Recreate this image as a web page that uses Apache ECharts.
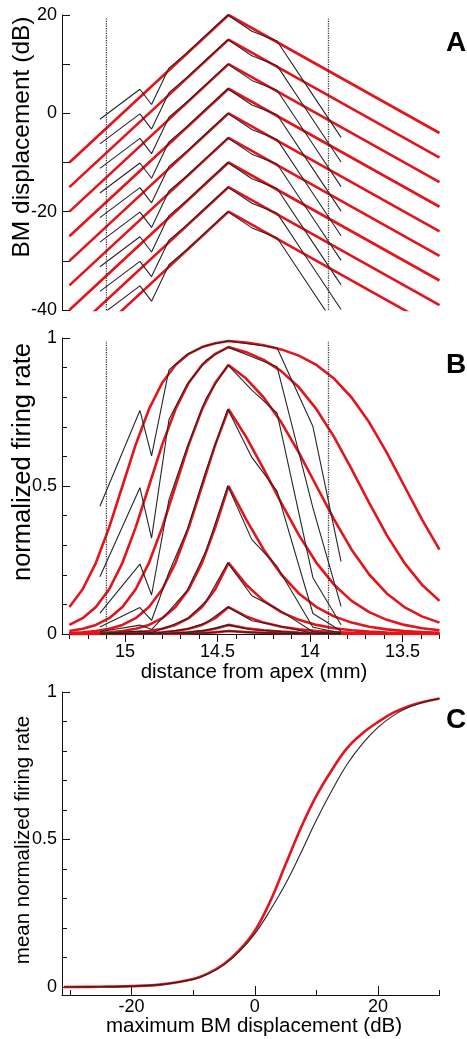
<!DOCTYPE html>
<html><head><meta charset="utf-8">
<script src="https://cdn.jsdelivr.net/npm/echarts@6.0.0/dist/echarts.min.js"></script>
<style>html,body{margin:0;padding:0;background:#fff;}#c{width:467px;height:1039px;}</style>
</head><body><div id="c"></div>
<script>
// ---------- Panel A : BM displacement (dB) vs distance from apex (mm) ----------
const redA = [
  [[15.3, -10], [14.44, 20], [13.3, -4]],
  [[15.3, -15], [14.44, 15], [13.3, -9]],
  [[15.3, -20], [14.44, 10], [13.3, -14]],
  [[15.3, -25], [14.44, 5], [13.3, -19]],
  [[15.3, -30], [14.44, 0], [13.3, -24]],
  [[15.3, -35], [14.44, -5], [13.3, -29]],
  [[15.3, -40], [14.44, -10], [13.3, -34]],
  [[15.3, -45], [14.44, -15], [13.3, -39]],
  [[15.3, -50], [14.44, -20], [13.3, -44]]
];
const measX = [15.135, 14.919, 14.856, 14.762, 14.665, 14.562, 14.444, 14.314, 14.178, 13.984, 13.832];
const blackA = [
  [-1.2, 4.9, 1.8, 9.2, 12.3, 15.9, 20, 16.7, 14.7, 3.7, -4.9],
  [-6.2, -0.1, -3.2, 4.2, 7.3, 10.9, 15, 11.7, 9.7, -1.3, -9.9],
  [-11.2, -5.1, -8.2, -0.8, 2.3, 5.9, 10, 6.7, 4.7, -6.3, -14.9],
  [-16.2, -10.1, -13.2, -5.8, -2.7, 0.9, 5, 1.7, -0.3, -11.3, -19.9],
  [-21.2, -15.1, -18.2, -10.8, -7.7, -4.1, 0, -3.3, -5.3, -16.3, -24.9],
  [-26.2, -20.1, -23.2, -15.8, -12.7, -9.1, -5, -8.3, -10.3, -21.3, -29.9],
  [-31.2, -25.1, -28.2, -20.8, -17.7, -14.1, -10, -13.3, -15.3, -26.3, -34.9],
  [-36.2, -30.1, -33.2, -25.8, -22.7, -19.1, -15, -18.3, -20.3, -31.3, -39.9],
  [-41.2, -35.1, -38.2, -30.8, -27.7, -24.1, -20, -23.3, -25.3, -36.3, -44.9]
];
const dottedX = [15.1, 13.9];
const dottedSpanA = [-40, 19.4];
const dottedSpanB = [0, 0.99];

// ---------- Panel B : normalized firing rate ----------
const modelX = [15.3, 15.2283, 15.1567, 15.085, 15.0133, 14.9417, 14.87, 14.7983, 14.7267, 14.655, 14.5833, 14.5117, 14.44,
  14.345, 14.25, 14.155, 14.06, 13.965, 13.87, 13.775, 13.68, 13.585, 13.49, 13.395, 13.3];
const redB = [
  [0.0911,0.1512,0.2405,0.3601,0.5,0.6399,0.7595,0.8488,0.9089,0.9466,0.9692,0.9824,0.9900,0.9843,0.9754,0.9615,0.9405,0.9089,0.8630,0.7990,0.7151,0.6130,0.5,0.3870,0.2849],
  [0.0308,0.0534,0.0911,0.1512,0.2405,0.3601,0.5,0.6399,0.7595,0.8488,0.9089,0.9466,0.9692,0.9521,0.9262,0.8880,0.8334,0.7595,0.6660,0.5573,0.4427,0.3340,0.2405,0.1666,0.1120],
  [0.0100,0.0176,0.0308,0.0534,0.0911,0.1512,0.2405,0.3601,0.5,0.6399,0.7595,0.8488,0.9089,0.8630,0.7990,0.7151,0.6130,0.5,0.3870,0.2849,0.2010,0.1370,0.0911,0.0595,0.0385],
  [0.0032,0.0056,0.0100,0.0176,0.0308,0.0534,0.0911,0.1512,0.2405,0.3601,0.5,0.6399,0.7595,0.6660,0.5573,0.4427,0.3340,0.2405,0.1666,0.1120,0.0738,0.0479,0.0308,0.0196,0.0125],
  [0.0010,0.0018,0.0032,0.0056,0.0100,0.0176,0.0308,0.0534,0.0911,0.1512,0.2405,0.3601,0.5,0.3870,0.2849,0.2010,0.1370,0.0911,0.0595,0.0385,0.0246,0.0157,0.0100,0.0063,0.0040],
  [0.0003,0.0006,0.0010,0.0018,0.0032,0.0056,0.0100,0.0176,0.0308,0.0534,0.0911,0.1512,0.2405,0.1666,0.1120,0.0738,0.0479,0.0308,0.0196,0.0125,0.0079,0.0050,0.0032,0.0020,0.0013],
  [0.0001,0.0002,0.0003,0.0006,0.0010,0.0018,0.0032,0.0056,0.0100,0.0176,0.0308,0.0534,0.0911,0.0595,0.0385,0.0246,0.0157,0.0100,0.0063,0.0040,0.0025,0.0016,0.0010,0.0006,0.0004],
  [0.0000,0.0001,0.0001,0.0002,0.0003,0.0006,0.0010,0.0018,0.0032,0.0056,0.0100,0.0176,0.0308,0.0196,0.0125,0.0079,0.0050,0.0032,0.0020,0.0013,0.0008,0.0005,0.0003,0.0002,0.0001],
  [0.0000,0.0000,0.0000,0.0001,0.0001,0.0002,0.0003,0.0006,0.0010,0.0018,0.0032,0.0056,0.0100,0.0063,0.0040,0.0025,0.0016,0.0010,0.0006,0.0004,0.0002,0.0001,0.0001,0.0000,0.0000]
];
const blackB = [
  [0.4314,0.7553,0.6020,0.8925,0.9442,0.9749,0.9900,0.9790,0.9671,0.7008,0.2447],
  [0.1937,0.4943,0.3238,0.7243,0.8427,0.9246,0.9692,0.9365,0.9030,0.4258,0.0930],
  [0.0707,0.2363,0.1317,0.4541,0.6293,0.7953,0.9089,0.8236,0.7467,0.1901,0.0315],
  [0.0235,0.0892,0.0458,0.2085,0.3495,0.5516,0.7595,0.5966,0.4828,0.0692,0.0102],
  [0.0076,0.0301,0.0150,0.0770,0.1454,0.2803,0.5,0.3189,0.2281,0.0230,0.0032],
  [0.0024,0.0097,0.0048,0.0257,0.0511,0.1098,0.2405,0.1291,0.0856,0.0074,0.0010],
  [0.0008,0.0031,0.0015,0.0083,0.0168,0.0376,0.0911,0.0448,0.0288,0.0024,0.0003],
  [0.0002,0.0010,0.0005,0.0026,0.0054,0.0122,0.0308,0.0146,0.0093,0.0007,0.0001],
  [0.0001,0.0003,0.0002,0.0008,0.0017,0.0039,0.0100,0.0047,0.0030,0.0002,0.0000]
];
const majorTicksB = [15, 14.5, 14, 13.5];
const minorTicksB = [15.3, 15.2, 15.1, 14.9, 14.8, 14.7, 14.6, 14.4, 14.3, 14.2, 14.1, 13.9, 13.8, 13.7, 13.6, 13.4, 13.3];

// ---------- Panel C : mean normalized firing rate vs max BM displacement ----------
const dbC = [-31, -25, -20, -15, -10, -7.5, -5, -2.5, 0, 2.5, 5, 7.5, 10, 12.5, 15, 17.5, 20, 22.5, 25, 27.5, 30];
const redC = [0.0002, 0.001, 0.003, 0.009, 0.027, 0.047, 0.078, 0.125, 0.19, 0.29, 0.415, 0.54, 0.648, 0.735, 0.81, 0.86, 0.898, 0.93, 0.952, 0.967, 0.978];
const blackC = [0.0002, 0.001, 0.003, 0.009, 0.026, 0.045, 0.075, 0.12, 0.18, 0.26, 0.35, 0.455, 0.565, 0.665, 0.755, 0.825, 0.88, 0.92, 0.948, 0.966, 0.978];
const majorTicksCx = [-20, 0, 20];
const minorTicksCx = [-30, -10, 10, 30];
const majorTicksCy = [0, 0.5, 1];
const minorTicksCy = [0.1, 0.2, 0.3, 0.4, 0.6, 0.7, 0.8, 0.9];

// ---------- build ----------
const FONT = '"Liberation Sans", Arial, Helvetica, sans-serif';
const RED = '#e3141b', BLK = '#262626', AX = '#111';
const chart = echarts.init(document.getElementById('c'), null, {renderer: 'canvas', width: 467, height: 1039});

const lineAx = {show: true, onZero: false, lineStyle: {color: AX, width: 1}};
const noLine = {show: false, onZero: false};
const lbl = {color: '#000', fontSize: 18, fontFamily: FONT};

const series = [];
function addLine(xi, yi, data, color, width, z, type) {
  series.push({type: 'line', xAxisIndex: xi, yAxisIndex: yi, data: data, symbol: 'none', showSymbol: false,
    silent: true, animation: false, z: z, clip: true,
    lineStyle: {color: color, width: width, type: type || 'solid'}});
}
// Panel A
redA.forEach(d => addLine(0, 0, d, RED, 2.6, 2));
blackA.forEach(row => addLine(0, 0, row.map((v, i) => [measX[i], v]), BLK, 1.1, 3));
dottedX.forEach(x => addLine(0, 0, dottedSpanA.map(v => [x, v]), '#333', 1.3, 4, [1.2, 1.2]));
// Panel B
redB.forEach(row => addLine(1, 1, row.map((v, i) => [modelX[i], v]), RED, 2.6, 2));
blackB.forEach(row => addLine(1, 1, row.map((v, i) => [measX[i], v]), BLK, 1.1, 3));
dottedX.forEach(x => addLine(1, 1, dottedSpanB.map(v => [x, v]), '#333', 1.3, 4, [1.2, 1.2]));
// Panel C
series.push({type: 'line', xAxisIndex: 3, yAxisIndex: 2, data: dbC.map((x, i) => [x, redC[i]]), symbol: 'none',
  smooth: 0.4, silent: true, animation: false, z: 2, lineStyle: {color: RED, width: 2.6}});
series.push({type: 'line', xAxisIndex: 3, yAxisIndex: 2, data: dbC.map((x, i) => [x, blackC[i]]), symbol: 'none',
  smooth: 0.4, silent: true, animation: false, z: 3, lineStyle: {color: BLK, width: 1.1}});

const option = {
  animation: false,
  textStyle: {fontFamily: FONT},
  grid: [
    {left: 62, top: 15, width: 377.5, height: 295},
    {left: 62, top: 338, width: 377.5, height: 296},
    {left: 62, top: 692, width: 377.5, height: 303}
  ],
  xAxis: [
    {gridIndex: 0, type: 'value', min: 13.3, max: 15.34, inverse: true, show: false},
    {gridIndex: 1, type: 'value', position: 'bottom', min: 13.3, max: 15.34, inverse: true, axisLine: lineAx,
      splitLine: {show: false},
      axisTick: {show: true, inside: false, length: 8, customValues: majorTicksB, lineStyle: {color: AX}},
      axisLabel: Object.assign({margin: 9, customValues: majorTicksB, formatter: v => String(v)}, lbl)},
    {gridIndex: 1, type: 'value', position: 'bottom', min: 13.3, max: 15.34, inverse: true, axisLine: noLine,
      splitLine: {show: false},
      axisTick: {show: true, inside: false, length: 5, customValues: minorTicksB, lineStyle: {color: AX}},
      axisLabel: {show: false}},
    {gridIndex: 2, type: 'value', position: 'bottom', min: -31.3, max: 30, axisLine: lineAx, splitLine: {show: false},
      axisTick: {show: true, inside: true, length: 9, customValues: majorTicksCx, lineStyle: {color: AX}},
      axisLabel: Object.assign({margin: 3, customValues: majorTicksCx, formatter: v => String(v)}, lbl)},
    {gridIndex: 2, type: 'value', position: 'bottom', min: -31.3, max: 30, axisLine: noLine, splitLine: {show: false},
      axisTick: {show: true, inside: true, length: 5, customValues: minorTicksCx, lineStyle: {color: AX}},
      axisLabel: {show: false}}
  ],
  yAxis: [
    {gridIndex: 0, type: 'value', position: 'left', min: -40, max: 20, interval: 10, axisLine: lineAx,
      splitLine: {show: false},
      axisTick: {show: true, inside: true, length: 8, lineStyle: {color: AX}},
      axisLabel: Object.assign({margin: 5, formatter: v => (v % 20 === 0 ? String(v) : '')}, lbl)},
    {gridIndex: 1, type: 'value', position: 'left', min: 0, max: 1, interval: 0.5, axisLine: lineAx,
      splitLine: {show: false},
      axisTick: {show: true, inside: true, length: 8, lineStyle: {color: AX}},
      minorTick: {show: true, splitNumber: 5, length: 5, lineStyle: {color: AX}},
      axisLabel: Object.assign({margin: 5, formatter: v => String(v)}, lbl)},
    {gridIndex: 2, type: 'value', position: 'left', min: -0.027, max: 1, axisLine: lineAx, splitLine: {show: false},
      axisTick: {show: true, inside: true, length: 8, customValues: majorTicksCy, lineStyle: {color: AX}},
      axisLabel: Object.assign({margin: 5, customValues: majorTicksCy, formatter: v => String(v)}, lbl)},
    {gridIndex: 2, type: 'value', position: 'left', min: -0.027, max: 1, axisLine: noLine, splitLine: {show: false},
      axisTick: {show: true, inside: true, length: 5, customValues: minorTicksCy, lineStyle: {color: AX}},
      axisLabel: {show: false}}
  ],
  graphic: [
    {type: 'text', x: 22, y: 137, rotation: Math.PI / 2, silent: true,
      style: {text: 'BM displacement (dB)', fontSize: 24.5, fontFamily: FONT, fill: '#000', align: 'center', verticalAlign: 'middle'}},
    {type: 'text', x: 23, y: 462, rotation: Math.PI / 2, silent: true,
      style: {text: 'normalized firing rate', fontSize: 25.5, fontFamily: FONT, fill: '#000', align: 'center', verticalAlign: 'middle'}},
    {type: 'text', x: 23, y: 840, rotation: Math.PI / 2, silent: true,
      style: {text: 'mean normalized firing rate', fontSize: 20.5, fontFamily: FONT, fill: '#000', align: 'center', verticalAlign: 'middle'}},
    {type: 'text', x: 254, y: 672, silent: true,
      style: {text: 'distance from apex (mm)', fontSize: 20.5, fontFamily: FONT, fill: '#000', align: 'center', verticalAlign: 'middle'}},
    {type: 'text', x: 254, y: 1026, silent: true,
      style: {text: 'maximum BM displacement (dB)', fontSize: 20.5, fontFamily: FONT, fill: '#000', align: 'center', verticalAlign: 'middle'}},
    {type: 'text', x: 456, y: 43, silent: true,
      style: {text: 'A', fontSize: 28, fontWeight: 'bold', fontFamily: FONT, fill: '#000', align: 'center', verticalAlign: 'middle'}},
    {type: 'text', x: 456, y: 365, silent: true,
      style: {text: 'B', fontSize: 28, fontWeight: 'bold', fontFamily: FONT, fill: '#000', align: 'center', verticalAlign: 'middle'}},
    {type: 'text', x: 456, y: 720, silent: true,
      style: {text: 'C', fontSize: 28, fontWeight: 'bold', fontFamily: FONT, fill: '#000', align: 'center', verticalAlign: 'middle'}}
  ],
  series: series
};
chart.setOption(option);
</script>
</body></html>
